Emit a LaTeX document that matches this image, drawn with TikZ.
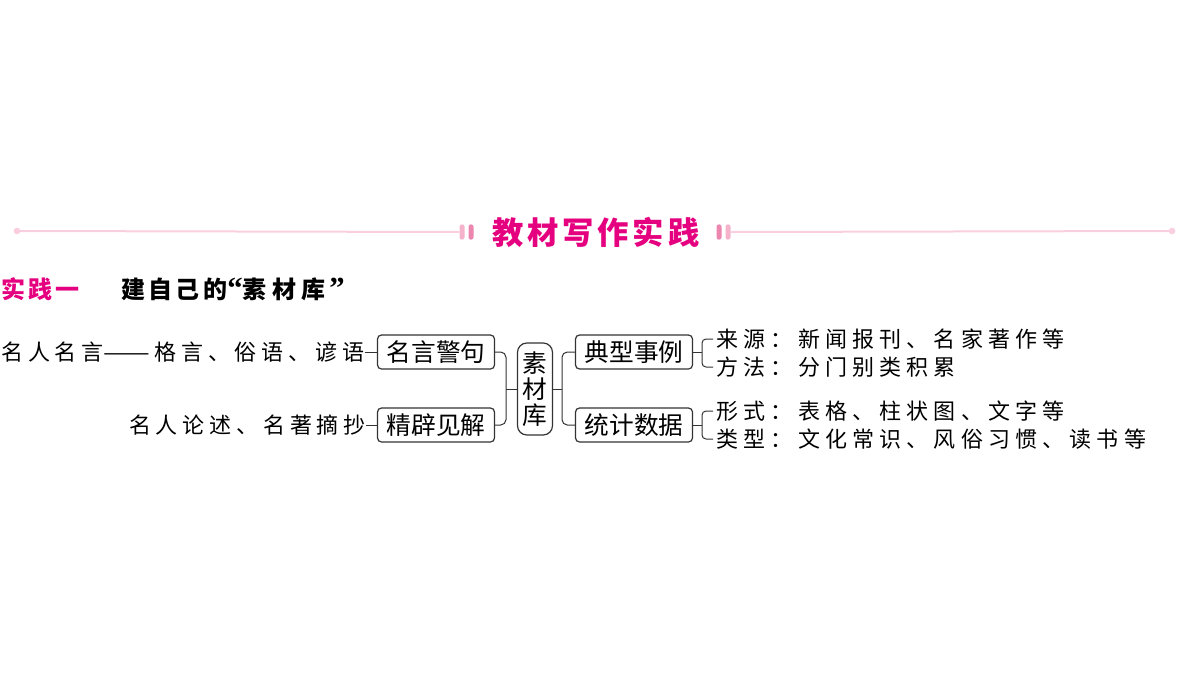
\documentclass[tikz,border=0pt]{standalone}
\usepackage{fontspec}
\setmainfont{Noto Sans CJK SC}
\newfontfamily\cjk{Noto Sans CJK SC}
\newfontfamily\cjkleft[LetterSpace=22]{Noto Sans CJK SC}
\newfontfamily\cjkright[LetterSpace=23.5]{Noto Sans CJK SC}
\newfontfamily\cjktitle[LetterSpace=12]{Noto Sans CJK SC}
\newfontfamily\cjksec[LetterSpace=12]{Noto Sans CJK SC}
\newfontfamily\cjkhead[LetterSpace=14]{Noto Sans CJK SC}
\newfontfamily\quotefont{Liberation Serif}
\definecolor{mag}{HTML}{E5007F}
\definecolor{pinkline}{HTML}{F9CFDF}
\definecolor{pillA}{HTML}{F4B3CB}
\definecolor{pillB}{HTML}{EB86AE}
\definecolor{boxline}{HTML}{333333}
\newcommand{\longdash}{\resizebox{35pt}{\height}{\addfontfeature{LetterSpace=0}——}}
\newcommand{\hq}[1]{{\quotefont\bfseries\fontsize{23}{23}\selectfont #1}}
\tikzset{
  mbox/.style={draw=boxline, line width=0.9pt, rounded corners=3pt,
    minimum width=87.75pt, minimum height=25.5pt, inner sep=0pt,
    font=\cjk\fontsize{18.5}{20}\selectfont},
  kubox/.style={draw=boxline, line width=0.9pt, rounded corners=7pt,
    minimum width=26.25pt, minimum height=69pt, inner sep=0pt, align=center,
    font=\cjk\fontsize{18.5}{19.5}\selectfont},
  lside/.style={inner sep=0pt, font=\cjkleft\fontsize{16.5}{18}\selectfont},
  rside/.style={inner ysep=0pt, inner xsep=2.5pt, anchor=west, font=\cjkright\fontsize{16.5}{18}\selectfont},
  conn/.style={draw=boxline, line width=0.75pt},
  pill/.style={minimum width=3.75pt, minimum height=11.5pt, inner sep=0pt, rounded corners=1.8pt},
  dotend/.style={circle, fill=pinkline, minimum size=5pt, inner sep=0pt},
}
\begin{document}
\begin{tikzpicture}[x=0.75pt,y=-0.75pt]
\useasboundingbox (0,0) rectangle (1200,675);
% header
\node[dotend] (dl) at (17,231) {};
\node[dotend] (dr) at (1172,231) {};
\node[pill, fill=pillA] (pa) at (462,232) {};
\node[pill, fill=pillB] (pb) at (471,232) {};
\node[pill, fill=pillB] (pc) at (719,232) {};
\node[pill, fill=pillA] (pd) at (728,232) {};
\draw[pinkline, line width=1.5pt] (dl.center) -- (pa.west);
\draw[pinkline, line width=1.5pt] (pd.east) -- (dr.center);
\node[inner sep=0pt, text=mag, font=\cjktitle\bfseries\fontsize{23.5}{25}\selectfont] (hd) at (596,232) {教材写作实践};
% section heading
\node[anchor=west, inner sep=0pt, text=mag, font=\cjksec\bfseries\fontsize{18}{20}\selectfont] (s1) at (1,289) {实践一};
\node[anchor=west, inner sep=0pt, font=\cjkhead\bfseries\fontsize{18}{20}\selectfont] (s2) at (121,289) {建自己的\hq{“}素\kern4pt材\kern4pt库\kern3pt\hq{”}};
% mind map
\node[mbox] (b1) at (436,352) {名言警句};
\node[mbox] (b2) at (436,425) {精辟见解};
\node[kubox] (k) at (535,389) {素\\材\\库};
\node[mbox] (c1) at (634,352) {典型事例};
\node[mbox] (c2) at (634,425) {统计数据};
\node[lside, anchor=west] (l1) at (1,352) {名人名言\longdash\hspace{3pt}格言、俗语、谚语};
\node[lside, anchor=east] (l2) at (366,425) {名人论述、名著摘抄};
\node[rside] (r1) at (713,339) {来源：新闻报刊、名家著作等};
\node[rside] (r2) at (713,367) {方法：分门别类积累};
\node[rside] (r3) at (713,411) {形式：表格、柱状图、文字等};
\node[rside] (r4) at (713,439) {类型：文化常识、风俗习惯、读书等};
\coordinate (jL) at (506,389);
\coordinate (jR) at (562,389);
\coordinate (p1) at (702,352);
\coordinate (p2) at (702,425);
\draw[conn] (l1.east) -- (b1.west);
\draw[conn] (l2.east) -- (b2.west);
\draw[conn, rounded corners=4pt] (b1.east) -| (jL) |- (b2.east);
\draw[conn] (jL) -- (k.west);
\draw[conn, rounded corners=4pt] (c1.west) -| (jR) |- (c2.west);
\draw[conn] (k.east) -- (jR);
\draw[conn, rounded corners=3pt] (r1.west) -| (p1) |- (r2.west);
\draw[conn] (c1.east) -- (p1);
\draw[conn, rounded corners=3pt] (r3.west) -| (p2) |- (r4.west);
\draw[conn] (c2.east) -- (p2);
\end{tikzpicture}
\end{document}
